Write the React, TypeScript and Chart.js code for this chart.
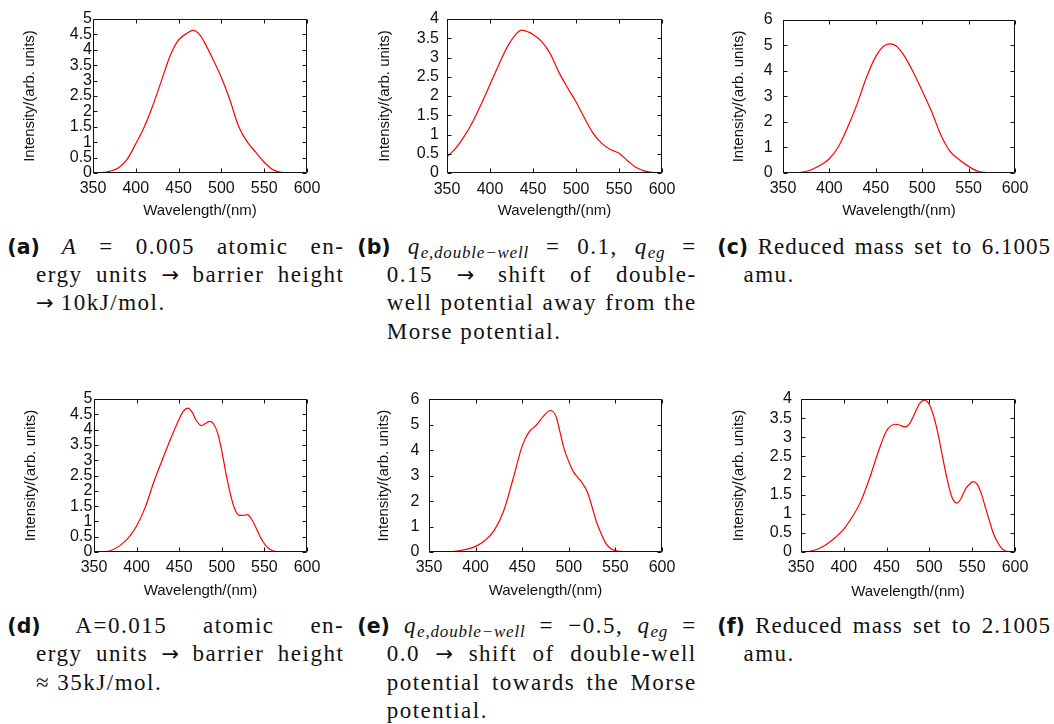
import React, { useEffect, useRef } from "react";
import { Chart, registerables } from "chart.js";
Chart.register(...registerables);

// ---------- data ----------
const xMin = 350;
const xMax = 600;
const xStep = 50;
const xTitle = "Wavelength/(nm)";
const yTitle = "Intensity/(arb. units)";

const wlA = [350, 360, 370, 380, 390, 400, 410, 420, 430, 440, 450, 460, 467, 475, 480, 490, 500, 510, 520, 530, 540, 550, 560, 570, 580, 590, 600];
const intA = [0, 0.01, 0.06, 0.17, 0.45, 0.95, 1.5, 2.2, 3.0, 3.8, 4.32, 4.54, 4.63, 4.48, 4.25, 3.7, 3.1, 2.37, 1.52, 1.02, 0.68, 0.35, 0.11, 0.02, 0, 0, 0];

const wlB = [350, 360, 370, 380, 390, 400, 410, 420, 430, 437, 445, 450, 460, 470, 480, 490, 500, 510, 520, 530, 540, 550, 560, 570, 580, 590, 600];
const intB = [0.42, 0.64, 0.95, 1.33, 1.8, 2.3, 2.8, 3.27, 3.6, 3.71, 3.66, 3.6, 3.42, 3.1, 2.62, 2.22, 1.85, 1.42, 1.03, 0.77, 0.61, 0.51, 0.32, 0.14, 0.05, 0.01, 0];

const wlC = [350, 360, 370, 380, 390, 400, 410, 420, 430, 440, 450, 458, 465, 472, 480, 490, 500, 510, 520, 530, 540, 550, 560, 570, 580, 600];
const intC = [0, 0.005, 0.03, 0.12, 0.3, 0.56, 1.05, 1.82, 2.72, 3.75, 4.57, 4.96, 5.06, 4.98, 4.63, 3.98, 3.22, 2.42, 1.5, 0.85, 0.52, 0.26, 0.07, 0.01, 0, 0];

const wlD = [350, 360, 370, 380, 390, 400, 410, 420, 430, 440, 450, 455, 460, 465, 470, 476, 481, 486, 490, 495, 500, 505, 510, 515, 520, 525, 530, 535, 540, 545, 550, 555, 560, 570, 580, 600];
const intD = [0, 0.01, 0.05, 0.2, 0.45, 0.85, 1.45, 2.27, 3.0, 3.7, 4.35, 4.6, 4.7, 4.58, 4.3, 4.13, 4.2, 4.27, 4.2, 3.9, 3.3, 2.55, 1.9, 1.42, 1.2, 1.2, 1.22, 1.07, 0.8, 0.5, 0.27, 0.12, 0.04, 0.005, 0, 0];

const wlE = [350, 370, 380, 390, 400, 410, 420, 430, 440, 450, 457, 465, 472, 480, 486, 490, 495, 500, 505, 510, 515, 520, 525, 530, 535, 540, 545, 550, 560, 570, 600];
const intE = [0, 0.01, 0.04, 0.1, 0.22, 0.45, 0.85, 1.6, 2.85, 4.17, 4.7, 4.98, 5.3, 5.56, 5.35, 4.8, 4.05, 3.55, 3.15, 2.92, 2.68, 2.35, 1.77, 1.15, 0.7, 0.33, 0.14, 0.06, 0.01, 0, 0];

const wlF = [350, 360, 370, 380, 390, 400, 410, 420, 430, 440, 450, 460, 465, 471, 476, 481, 486, 490, 494, 500, 505, 510, 515, 520, 526, 532, 537, 542, 547, 551, 556, 561, 565, 570, 575, 580, 585, 590, 600];
const intF = [0, 0.02, 0.08, 0.2, 0.38, 0.6, 0.92, 1.33, 1.92, 2.6, 3.17, 3.34, 3.32, 3.27, 3.33, 3.53, 3.78, 3.92, 3.97, 3.85, 3.55, 3.1, 2.53, 1.98, 1.45, 1.28, 1.4, 1.64, 1.77, 1.84, 1.77, 1.5, 1.2, 0.82, 0.47, 0.24, 0.08, 0.02, 0];

const yMaxes = [5, 4, 6, 5, 6, 4];
const ySteps = [0.5, 0.5, 1, 0.5, 1, 0.5];

// ---------- layout ----------
type Spec = {
  cx: number; cy: number; w: number; h: number;
  L: number; R: number; T: number; B: number;
  yLabelRight: number; xLabelCY: number; xTitleCY: number; yTitleCX: number;
  wl: number[]; inten: number[]; yMax: number; yStep: number;
};

const panels: Spec[] = [
  { cx: 0, cy: 0, w: 351, h: 225, L: 93, R: 307, T: 19, B: 173, yLabelRight: 92, xLabelCY: 189, xTitleCY: 211, yTitleCX: 30, wl: wlA, inten: intA, yMax: yMaxes[0], yStep: ySteps[0] },
  { cx: 351, cy: 0, w: 351, h: 225, L: 447, R: 662, T: 19, B: 173, yLabelRight: 439, xLabelCY: 189.5, xTitleCY: 211, yTitleCX: 385.3, wl: wlB, inten: intB, yMax: yMaxes[1], yStep: ySteps[1] },
  { cx: 702, cy: 0, w: 352, h: 225, L: 783, R: 1015, T: 19, B: 173, yLabelRight: 772.7, xLabelCY: 189, xTitleCY: 211, yTitleCX: 739.3, wl: wlC, inten: intC, yMax: yMaxes[2], yStep: ySteps[2] },
  { cx: 0, cy: 380, w: 351, h: 225, L: 94, R: 307, T: 399, B: 552, yLabelRight: 92.3, xLabelCY: 567.7, xTitleCY: 590.7, yTitleCX: 30.7, wl: wlD, inten: intD, yMax: yMaxes[3], yStep: ySteps[3] },
  { cx: 351, cy: 380, w: 351, h: 225, L: 429, R: 662, T: 399, B: 552, yLabelRight: 419.3, xLabelCY: 567.7, xTitleCY: 590.7, yTitleCX: 384.3, wl: wlE, inten: intE, yMax: yMaxes[4], yStep: ySteps[4] },
  { cx: 702, cy: 380, w: 352, h: 225, L: 801, R: 1015, T: 399, B: 552, yLabelRight: 792, xLabelCY: 567.7, xTitleCY: 592.3, yTitleCX: 739.3, wl: wlF, inten: intF, yMax: yMaxes[5], yStep: ySteps[5] },
];

const sansFamily = '"Liberation Sans", Arial, sans-serif';
const textColor = "#111";

const frameTicks = {
  id: "frameTicks",
  afterDatasetsDraw(chart: any) {
    const { ctx, chartArea: a, scales } = chart;
    const x = scales.x;
    const y = scales.y;
    const tl = 4;
    ctx.save();
    ctx.strokeStyle = "#111";
    ctx.lineWidth = 1;
    const l = Math.round(a.left) + 0.5;
    const r = Math.round(a.right) - 0.5;
    const t = Math.round(a.top) + 0.5;
    const b = Math.round(a.bottom) - 0.5;
    ctx.beginPath();
    ctx.rect(l, t, r - l, b - t);
    for (const tk of x.ticks) {
      const p = Math.round(x.getPixelForValue(tk.value)) + 0.5;
      ctx.moveTo(p, b); ctx.lineTo(p, b - tl);
      ctx.moveTo(p, t); ctx.lineTo(p, t + tl);
    }
    for (const tk of y.ticks) {
      const p = Math.round(y.getPixelForValue(tk.value)) + 0.5;
      ctx.moveTo(l, p); ctx.lineTo(l + tl, p);
      ctx.moveTo(r, p); ctx.lineTo(r - tl, p);
    }
    ctx.stroke();
    ctx.restore();
  },
};

function Panel({ spec }: { spec: Spec }) {
  const ref = useRef<HTMLCanvasElement>(null);
  useEffect(() => {
    const s = spec;
    const fs = 16;
    const tfs = 15;
    const chart = new Chart(ref.current as HTMLCanvasElement, {
      type: "line",
      data: {
        datasets: [
          {
            data: s.wl.map((xv, i) => ({ x: xv, y: s.inten[i] })),
            borderColor: "#ff0000",
            borderWidth: 1.2,
            pointRadius: 0,
            cubicInterpolationMode: "monotone",
            fill: false,
          },
        ],
      },
      options: {
        animation: false,
        responsive: false,
        devicePixelRatio: 1,
        layout: { padding: { left: 0, top: s.T - s.cy, right: s.cx + s.w - s.R, bottom: 0 } },
        plugins: { legend: { display: false }, tooltip: { enabled: false } },
        scales: {
          x: {
            type: "linear",
            min: xMin,
            max: xMax,
            grid: { display: false, drawTicks: false, tickLength: 0 },
            border: { display: false },
            ticks: {
              stepSize: xStep,
              autoSkip: false,
              maxRotation: 0,
              padding: s.xLabelCY - s.B - 0.6 * fs,
              font: { family: sansFamily, size: fs },
              color: textColor,
              callback: (v: any) => String(v),
            },
            title: {
              display: true,
              text: xTitle,
              font: { family: sansFamily, size: tfs },
              color: textColor,
              padding: { top: 0, bottom: s.cy + s.h - s.xTitleCY - 0.6 * tfs },
            },
            afterFit: (sc: any) => { sc.height = s.cy + s.h - s.B; },
          },
          y: {
            type: "linear",
            min: 0,
            max: s.yMax,
            grid: { display: false, drawTicks: false, tickLength: 0 },
            border: { display: false },
            ticks: {
              stepSize: s.yStep,
              autoSkip: false,
              padding: s.L - s.yLabelRight,
              font: { family: sansFamily, size: fs },
              color: textColor,
              callback: (v: any) => String(Math.round(Number(v) * 10) / 10),
            },
            title: {
              display: true,
              text: yTitle,
              font: { family: sansFamily, size: tfs },
              color: textColor,
              padding: { top: s.yTitleCX - s.cx - 0.6 * tfs, bottom: 0 },
            },
            afterFit: (sc: any) => { sc.width = s.L - s.cx; },
          },
        },
      } as any,
      plugins: [frameTicks],
    });
    return () => chart.destroy();
  }, [spec]);
  return (
    <canvas
      ref={ref}
      width={spec.w}
      height={spec.h}
      style={{ position: "absolute", left: spec.cx, top: spec.cy, width: spec.w, height: spec.h }}
    />
  );
}

// ---------- captions ----------
const serifFamily = '"Liberation Serif", "Times New Roman", serif';
const capSize = 23;
const capLH = 28.3;

function Line({ x, right, baseline, justify, ls, children }: any) {
  const top = baseline - (capLH / 2 + 0.3375 * capSize);
  return (
    <div
      style={{
        position: "absolute",
        left: x,
        top,
        width: right - x,
        height: capLH,
        lineHeight: capLH + "px",
        fontFamily: serifFamily,
        fontSize: capSize,
        letterSpacing: (ls ?? 1.5) + "px",
        color: "#111",
        textAlign: justify ? "justify" : "left",
        textAlignLast: justify ? "justify" : "left",
      } as any}
    >
      {children}
    </div>
  );
}

function Lbl({ t }: { t: string }) {
  return (
    <span style={{ fontFamily: '"DejaVu Sans", sans-serif', fontWeight: "bold", fontSize: 20.5, letterSpacing: 0, lineHeight: 0 }}>
      {t}
    </span>
  );
}

function Arr() {
  return (
    <span style={{ fontFamily: '"DejaVu Sans", sans-serif', fontSize: 21, letterSpacing: 0, lineHeight: 0 }}>→</span>
  );
}

function Q({ sub }: { sub: string }) {
  return (
    <span style={{ lineHeight: 0 }}>
      <i>q</i>
      <span style={{ fontStyle: "italic", fontSize: "0.74em", verticalAlign: "-0.22em", lineHeight: 0, letterSpacing: "0.8px" }}>{sub}</span>
    </span>
  );
}

const colA = { lx: 7.3, ix: 36, r: 344.3 };
const colB = { lx: 357.3, ix: 386.7, r: 696.7 };
const colC = { lx: 717.3, ix: 743.5, r: 1051 };
const topBase = [254.7, 283, 311.3, 339.6];
const botBase = [634, 662.3, 690.6, 718.9];

function Captions() {
  return (
    <>
      {/* (a) */}
      <Line x={colA.lx} right={colA.r} baseline={topBase[0]} justify>
        <Lbl t="(a)" /> <i>A</i> = 0.005 atomic en-
      </Line>
      <Line x={colA.ix} right={colA.r} baseline={topBase[1]} justify>
        ergy units <Arr /> barrier height
      </Line>
      <Line x={colA.ix} right={colA.r} baseline={topBase[2]}>
        <Arr /> 10kJ/mol.
      </Line>
      {/* (b) */}
      <Line x={colB.lx} right={colB.r} baseline={topBase[0]} justify>
        <Lbl t="(b)" /> <Q sub="e,double−well" /> = 0.1, <Q sub="eg" /> =
      </Line>
      <Line x={colB.ix} right={colB.r} baseline={topBase[1]} justify>
        0.15 <Arr /> shift of double-
      </Line>
      <Line x={colB.ix} right={colB.r} baseline={topBase[2]} justify>
        well potential away from the
      </Line>
      <Line x={colB.ix} right={colB.r} baseline={topBase[3]}>
        Morse potential.
      </Line>
      {/* (c) */}
      <Line x={colC.lx} right={colC.r} baseline={topBase[0]} justify ls={1.0}>
        <Lbl t="(c)" /> Reduced mass set to 6.1005
      </Line>
      <Line x={colC.ix} right={colC.r} baseline={topBase[1]}>
        amu.
      </Line>
      {/* (d) */}
      <Line x={colA.lx} right={colA.r} baseline={botBase[0]} justify>
        <Lbl t="(d)" /> A=0.015 atomic en-
      </Line>
      <Line x={colA.ix} right={colA.r} baseline={botBase[1]} justify>
        ergy units <Arr /> barrier height
      </Line>
      <Line x={colA.ix} right={colA.r} baseline={botBase[2]}>
        ≈ 35kJ/mol.
      </Line>
      {/* (e) */}
      <Line x={colB.lx} right={colB.r} baseline={botBase[0]} justify>
        <Lbl t="(e)" /> <Q sub="e,double−well" /> = −0.5, <Q sub="eg" /> =
      </Line>
      <Line x={colB.ix} right={colB.r} baseline={botBase[1]} justify>
        0.0 <Arr /> shift of double-well
      </Line>
      <Line x={colB.ix} right={colB.r} baseline={botBase[2]} justify>
        potential towards the Morse
      </Line>
      <Line x={colB.ix} right={colB.r} baseline={botBase[3]}>
        potential.
      </Line>
      {/* (f) */}
      <Line x={colC.lx} right={colC.r} baseline={botBase[0]} justify ls={1.0}>
        <Lbl t="(f)" /> Reduced mass set to 2.1005
      </Line>
      <Line x={colC.ix} right={colC.r} baseline={botBase[1]}>
        amu.
      </Line>
    </>
  );
}

export default function App() {
  return (
    <div style={{ position: "absolute", left: 0, top: 0, width: 1054, height: 724, background: "#fff", overflow: "hidden" }}>
      {panels.map((p, i) => (
        <Panel key={i} spec={p} />
      ))}
      <Captions />
    </div>
  );
}
